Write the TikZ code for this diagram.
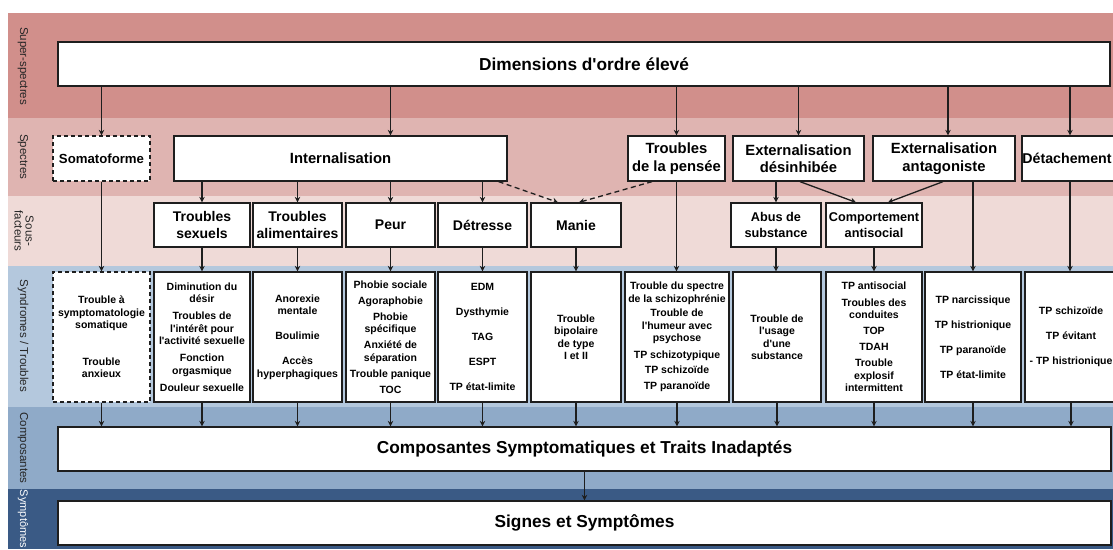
\documentclass[tikz,border=0pt]{standalone}
\usepackage{fontspec}
\setmainfont{Liberation Sans}
\usetikzlibrary{arrows.meta}
\newcommand\ap{\textquotesingle}
\definecolor{bandA}{RGB}{209,143,139}
\definecolor{bandB}{RGB}{223,180,177}
\definecolor{bandC}{RGB}{239,218,215}
\definecolor{bandD}{RGB}{180,200,221}
\definecolor{bandE}{RGB}{143,170,200}
\definecolor{bandF}{RGB}{58,90,133}
\definecolor{boxline}{RGB}{30,30,30}
\tikzset{
  box/.style={draw=boxline, line width=1.3pt, fill=white, inner sep=1pt, align=center, font=\bfseries},
  dbox/.style={box, dash pattern=on 4pt off 3pt},
  bigtxt/.style={font=\fontsize{17.3}{20}\selectfont\bfseries},
  spectxt/.style={font=\fontsize{14.8}{17.5}\selectfont\bfseries},
  subtxt/.style={font=\fontsize{14}{17}\selectfont\bfseries},
  smalltxt/.style={font=\fontsize{12.7}{16}\selectfont\bfseries},
  syntxt/.style={font=\fontsize{10.5}{12.5}\selectfont\bfseries},
  bandlabel/.style={rotate=-90, text=black!85, font=\fontsize{11.5}{11}\selectfont, align=center, inner sep=0pt},
  arr/.style={draw=boxline, line width=1.3pt, -{Stealth[length=5.5pt,width=5.5pt]}},
  darr/.style={arr, dash pattern=on 5pt off 3.5pt}
}
\begin{document}
\begin{tikzpicture}[x=1pt,y=-1pt]
\useasboundingbox (0,0) rectangle (1113,549);
\clip (0,0) rectangle (1113,549);
\fill[white] (0,0) rectangle (1113,549);
% bands
\fill[bandA] (8,13) rectangle (1113,118);
\fill[bandB] (8,118) rectangle (1113,196);
\fill[bandC] (8,196) rectangle (1113,266);
\fill[bandD] (8,266) rectangle (1113,407);
\fill[bandE] (8,407) rectangle (1113,489);
\fill[bandF] (8,489) rectangle (1113,549);
% band labels
\node[bandlabel] (l1) at (23,66) {Super-spectres};
\node[bandlabel] (l2) at (23,157) {Spectres};
\node[bandlabel] (l3) at (24,231) {Sous-\\facteurs};
\node[bandlabel] (l4) at (23,336) {Syndromes / Troubles};
\node[bandlabel] (l5) at (23,448) {Composantes};
\node[bandlabel, text=white, font=\fontsize{11}{11}\selectfont] (l6) at (23,519) {Symptômes};
% top
\node[box, bigtxt, minimum width=1052pt, minimum height=44pt] (top) at (584,64) {Dimensions d\ap ordre élevé};
% spectra
\node[dbox, font=\fontsize{13.2}{16}\selectfont\bfseries, minimum width=97pt, minimum height=45pt] (soma) at (101.5,158.5) {Somatoforme};
\node[box, spectxt, minimum width=333pt, minimum height=45pt] (intern) at (340.5,158.5) {Internalisation};
\node[box, spectxt, minimum width=97pt, minimum height=45pt] (pensee) at (676.5,158.5) {Troubles\\de la pensée};
\node[box, spectxt, minimum width=131pt, minimum height=45pt] (extd) at (798.5,158.5) {Externalisation\\désinhibée};
\node[box, spectxt, minimum width=142pt, minimum height=45pt] (exta) at (944,158.5) {Externalisation\\antagoniste};
\node[box, font=\fontsize{14.2}{17}\selectfont\bfseries, minimum width=96pt, minimum height=45pt] (detach) at (1070,158.5) {\hspace*{-6pt}Détachement};
% sub-factors
\node[box, subtxt, minimum width=96pt, minimum height=44pt] (tsex) at (202,225) {Troubles\\sexuels};
\node[box, subtxt, minimum width=89pt, minimum height=44pt] (talim) at (297.5,225) {Troubles\\alimentaires};
\node[box, subtxt, minimum width=89pt, minimum height=44pt] (peur) at (390.5,225) {Peur};
\node[box, subtxt, minimum width=89pt, minimum height=44pt] (detr) at (482.5,225) {Détresse};
\node[box, subtxt, minimum width=90pt, minimum height=44pt] (manie) at (576,225) {Manie};
\node[box, smalltxt, minimum width=90pt, minimum height=44pt] (abus) at (776,225) {Abus de\\substance};
\node[box, smalltxt, minimum width=96pt, minimum height=44pt] (comp) at (874,225) {Comportement\\antisocial};
% syndromes
\node[dbox, syntxt, minimum width=97pt, minimum height=130pt] (s1) at (101.5,337) {Trouble à\\symptomatologie\\somatique\\[24pt]Trouble\\anxieux};
\node[box, syntxt, minimum width=96pt, minimum height=130pt] (s2) at (202,337) {Diminution du\\désir\\[4.5pt]Troubles de\\l\ap intérêt pour\\l\ap activité sexuelle\\[4.5pt]Fonction\\orgasmique\\[4.5pt]Douleur sexuelle};
\node[box, syntxt, minimum width=89pt, minimum height=130pt] (s3) at (297.5,337) {Anorexie\\mentale\\[12.5pt]Boulimie\\[12.5pt]Accès\\hyperphagiques};
\node[box, syntxt, minimum width=89pt, minimum height=130pt] (s4) at (390.5,337) {Phobie sociale\\[3.5pt]Agoraphobie\\[3pt]Phobie\\spécifique\\[3.5pt]Anxiété de\\séparation\\[3.5pt]Trouble panique\\[3.5pt]TOC};
\node[box, syntxt, minimum width=89pt, minimum height=130pt] (s5) at (482.5,337) {EDM\\[12.5pt]Dysthymie\\[12.5pt]TAG\\[12.5pt]ESPT\\[12.5pt]TP état-limite};
\node[box, syntxt, minimum width=90pt, minimum height=130pt] (s6) at (576,337) {Trouble\\bipolaire\\de type\\I et II};
\node[box, syntxt, minimum width=104pt, minimum height=130pt] (s7) at (677,337) {Trouble du spectre\\de la schizophrénie\\[2pt]Trouble de\\l\ap humeur avec\\psychose\\[4pt]TP schizotypique\\[3pt]TP schizoïde\\[3pt]TP paranoïde};
\node[box, syntxt, minimum width=88pt, minimum height=130pt] (s8) at (777,337) {Trouble de\\l\ap usage\\d\ap une\\substance};
\node[box, syntxt, minimum width=96pt, minimum height=130pt] (s9) at (874,337) {TP antisocial\\[4pt]Troubles des\\conduites\\[3.5pt]TOP\\[3.5pt]TDAH\\[3.5pt]Trouble\\explosif\\intermittent};
\node[box, syntxt, minimum width=96pt, minimum height=130pt] (s10) at (973,337) {TP narcissique\\[12.5pt]TP histrionique\\[12.5pt]TP paranoïde\\[12.5pt]TP état-limite};
\node[box, syntxt, minimum width=92pt, minimum height=130pt] (s11) at (1071,337) {TP schizoïde\\[12.5pt]TP évitant\\[12.5pt]- TP histrionique};
% bottom
\node[box, bigtxt, minimum width=1053pt, minimum height=44pt] (compo) at (584.5,449) {Composantes Symptomatiques et Traits Inadaptés};
\node[box, bigtxt, minimum width=1053pt, minimum height=44pt] (signes) at (584.5,523) {Signes et Symptômes};
% arrows top -> spectra
\draw[arr] (soma.north |- top.south) -- (soma.north);
\draw[arr] (peur.north |- top.south) -- (peur.north |- intern.north);
\draw[arr] (pensee.north |- top.south) -- (pensee.north);
\draw[arr] (extd.north |- top.south) -- (extd.north);
\draw[arr] ([xshift=4pt]exta.north |- top.south) -- ([xshift=4pt]exta.north);
\draw[arr] (detach.north |- top.south) -- (detach.north);
% spectra -> sub-factors
\draw[arr] (tsex.north |- intern.south) -- (tsex.north);
\draw[arr] (talim.north |- intern.south) -- (talim.north);
\draw[arr] (peur.north |- intern.south) -- (peur.north);
\draw[arr] (detr.north |- intern.south) -- (detr.north);
\draw[darr] ([xshift=-9pt]intern.south east) -- ([xshift=-18pt]manie.north);
\draw[darr] ([xshift=-24.5pt]pensee.south) -- ([xshift=3pt]manie.north);
\draw[arr] (abus.north |- extd.south) -- (abus.north);
\draw[arr] ([xshift=1.5pt]extd.south) -- ([xshift=-18pt]comp.north);
\draw[arr] ([xshift=-1pt]exta.south) -- ([xshift=14pt]comp.north);
% to syndromes
\draw[arr] (soma.south) -- (soma.south |- s1.north);
\draw[arr] (tsex.south) -- (s2.north);
\draw[arr] (talim.south) -- (s3.north);
\draw[arr] (peur.south) -- (s4.north);
\draw[arr] (detr.south) -- (s5.north);
\draw[arr] (manie.south) -- (s6.north);
\draw[arr] (pensee.south) -- (pensee.south |- s7.north);
\draw[arr] (abus.south) -- (abus.south |- s8.north);
\draw[arr] (comp.south) -- (s9.north);
\draw[arr] (s10.north |- exta.south) -- (s10.north);
\draw[arr] (detach.south) -- (detach.south |- s11.north);
% syndromes -> composantes
\foreach \s in {s1,s2,s3,s4,s5,s6,s7,s8,s9,s10,s11}{
  \draw[arr] (\s.south) -- (\s.south |- compo.north);
}
\draw[arr] (signes.north |- compo.south) -- (signes.north);
\end{tikzpicture}
\end{document}
